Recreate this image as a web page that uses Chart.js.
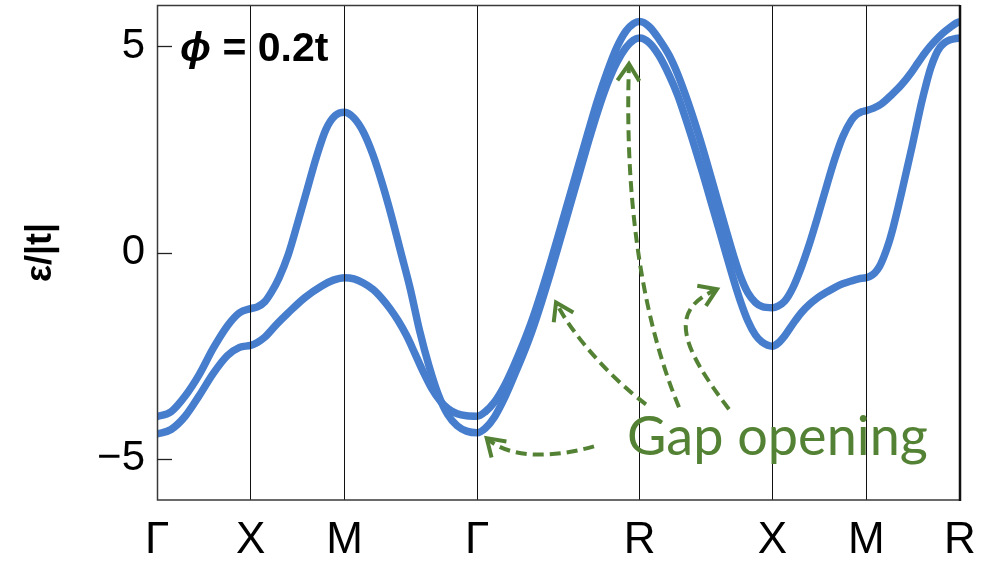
<!DOCTYPE html>
<html>
<head>
<meta charset="utf-8">
<script src="https://cdn.jsdelivr.net/npm/chart.js@4.4.1/dist/chart.umd.min.js"></script>
<style>
  html, body { margin: 0; padding: 0; background: #fff; }
  canvas { display: block; }
</style>
</head>
<body>
<canvas id="bands" width="994" height="561"></canvas>
<script>
// High-symmetry points along the path Γ-X-M-Γ-R-X-M-R (path length units)
const kNodes = [0, 1, 2, 3.414, 5.146, 6.561, 7.561, 8.561];
const kLabels = ['Γ', 'X', 'M', 'Γ', 'R', 'X', 'M', 'R'];
const yTickValues = [-5, 0, 5];
const yTickLabels = ['\u22125', '0', '5'];

// Band A: starts on the upper branch at Γ, ends on the lower branch at R
const bandAK = [
  0, 0.15, 0.3, 0.45, 0.6, 0.75, 0.88, 1.0,
  1.07, 1.15, 1.22, 1.3, 1.4, 1.5, 1.6, 1.7, 1.8, 1.9, 2.0,
  2.1, 2.2, 2.3, 2.4, 2.5, 2.6, 2.7, 2.8, 2.9, 3.0, 3.1, 3.2, 3.3, 3.414,
  3.5, 3.6, 3.7, 3.8, 3.9, 4.0, 4.1, 4.2, 4.3, 4.4, 4.5, 4.6, 4.7, 4.8, 4.9, 5.0, 5.08, 5.146,
  5.25, 5.35, 5.46, 5.55, 5.64, 5.73, 5.815, 5.9, 5.99, 6.07, 6.15, 6.22, 6.3, 6.38, 6.45, 6.561,
  6.62, 6.692, 6.78, 6.869, 6.96, 7.047, 7.14, 7.225, 7.31, 7.402, 7.48, 7.561,
  7.6, 7.65, 7.7, 7.75, 7.8, 7.85, 7.9, 7.95, 8.0, 8.05, 8.1, 8.15, 8.2, 8.25, 8.3, 8.35, 8.4, 8.45, 8.5, 8.561
];
const bandAE = [
  -3.98, -3.86, -3.48, -2.96, -2.32, -1.78, -1.46, -1.36,
  -1.32, -1.19, -0.96, -0.62, -0.05, 0.72, 1.52, 2.32, 2.98, 3.32, 3.40,
  3.26, 2.92, 2.38, 1.68, 0.88, 0.00, -0.88, -1.90, -2.75, -3.45, -3.93, -4.20, -4.33, -4.37,
  -4.26, -3.98, -3.55, -3.03, -2.49, -1.89, -1.20, -0.46, 0.32, 1.11, 1.90, 2.69, 3.43, 4.08, 4.60, 4.97, 5.15, 5.20,
  5.08, 4.78, 4.30, 3.82, 3.22, 2.58, 1.95, 1.28, 0.58, -0.06, -0.68, -1.18, -1.66, -2.00, -2.17, -2.27,
  -2.20, -2.02, -1.73, -1.46, -1.25, -1.09, -0.96, -0.85, -0.76, -0.69, -0.64, -0.61,
  -0.58, -0.50, -0.35, -0.10, 0.22, 0.62, 1.08, 1.57, 2.07, 2.57, 3.10, 3.62, 4.08, 4.48, 4.78, 4.98, 5.09, 5.15, 5.18, 5.20
];

// Band B: starts on the lower branch at Γ, ends on the upper branch at R
const bandBK = [
  0, 0.15, 0.3, 0.45, 0.6, 0.75, 0.88, 1.0,
  1.07, 1.151, 1.28, 1.4, 1.578, 1.756, 1.88, 2.0,
  2.1, 2.2, 2.306, 2.4, 2.484, 2.57, 2.662, 2.75, 2.84, 2.93, 3.02, 3.1, 3.2, 3.3, 3.414,
  3.5, 3.6, 3.7, 3.8, 3.9, 4.0, 4.1, 4.2, 4.3, 4.4, 4.5, 4.6, 4.7, 4.8, 4.9, 5.0, 5.08, 5.146,
  5.25, 5.35, 5.46, 5.55, 5.64, 5.73, 5.815, 5.9, 5.99, 6.07, 6.15, 6.22, 6.3, 6.38, 6.45, 6.561,
  6.62, 6.692, 6.78, 6.869, 6.96, 7.047, 7.14, 7.225, 7.31, 7.402, 7.46, 7.509, 7.561,
  7.64, 7.722, 7.83, 7.935, 8.04, 8.113, 8.2, 8.291, 8.38, 8.468, 8.52, 8.561
];
const bandBE = [
  -4.40, -4.29, -3.97, -3.47, -2.93, -2.50, -2.30, -2.25,
  -2.18, -2.05, -1.73, -1.46, -1.09, -0.81, -0.67, -0.61,
  -0.64, -0.74, -0.90, -1.12, -1.36, -1.65, -2.02, -2.45, -2.90, -3.30, -3.60, -3.78, -3.91, -3.96, -3.97,
  -3.86, -3.62, -3.25, -2.77, -2.23, -1.63, -0.94, -0.20, 0.58, 1.37, 2.16, 2.95, 3.71, 4.38, 4.96, 5.37, 5.55, 5.60,
  5.47, 5.18, 4.78, 4.33, 3.78, 3.17, 2.55, 1.88, 1.16, 0.52, -0.10, -0.58, -0.98, -1.21, -1.31, -1.34,
  -1.30, -1.18, -0.85, -0.36, 0.24, 0.89, 1.62, 2.26, 2.80, 3.20, 3.35, 3.41, 3.44,
  3.50, 3.60, 3.82, 4.06, 4.36, 4.60, 4.88, 5.12, 5.32, 5.48, 5.56, 5.60
];

// Dashed callout arrows (cubic Bézier: start, control 1, control 2, tip) in (k, ε) units
const gapArrows = [
  [[4.659, -4.70], [4.243, -4.97], [3.763, -5.02], [3.515, -4.50]],
  [[5.213, -3.68], [4.829, -3.03], [4.424, -1.98], [4.254, -1.21]],
  [[5.565, -3.75], [5.043, -0.89], [5.000, 2.51], [5.032, 4.57]],
  [[6.098, -3.80], [5.576, -2.23], [5.448, -1.40], [5.970, -0.89]]
];
const gapLabel = { text: 'Gap opening', at: [5.011, -4.90] };
const fluxLabel = { symbol: '\u03D5', rest: ' = 0.2t', at: [0.245, 4.64] };

const BAND_COLOR = '#477dcd';
const NOTE_COLOR = '#548235';

const toPoints = (ks, es) => ks.map((k, i) => ({ x: k, y: es[i] }));

const overlay = {
  id: 'overlay',
  afterDraw(chart) {
    const { ctx, chartArea: a, scales: { x, y } } = chart;
    const P = p => [x.getPixelForValue(p[0]), y.getPixelForValue(p[1])];
    ctx.save();

    // frame
    ctx.strokeStyle = '#3a3a3a';
    ctx.lineWidth = 1.5;
    ctx.beginPath();
    ctx.moveTo(a.right, a.top + 0.5); ctx.lineTo(a.left + 0.5, a.top + 0.5);
    ctx.lineTo(a.left + 0.5, a.bottom); ctx.lineTo(a.right, a.bottom);
    ctx.stroke();
    ctx.strokeStyle = '#111';
    ctx.lineWidth = 2.5;
    ctx.beginPath();
    ctx.moveTo(a.right, a.top); ctx.lineTo(a.right, a.bottom + 1);
    ctx.stroke();

    // inward ticks on the energy axis
    ctx.strokeStyle = '#222';
    ctx.lineWidth = 1.3;
    yTickValues.forEach(v => {
      const py = Math.round(y.getPixelForValue(v)) + 0.5;
      ctx.beginPath(); ctx.moveTo(a.left, py); ctx.lineTo(a.left + 15, py); ctx.stroke();
    });

    // flux label
    const [fx, fy] = P(fluxLabel.at);
    ctx.fillStyle = '#000';
    ctx.textBaseline = 'alphabetic';
    ctx.textAlign = 'left';
    ctx.font = 'italic bold 41px "Liberation Sans", "DejaVu Sans", sans-serif';
    ctx.fillText(fluxLabel.symbol, fx, fy);
    const sw = ctx.measureText(fluxLabel.symbol).width;
    ctx.font = 'bold 41px "Liberation Sans", "DejaVu Sans", sans-serif';
    ctx.fillText(fluxLabel.rest, fx + sw, fy);

    // callout arrows
    ctx.strokeStyle = NOTE_COLOR;
    ctx.lineWidth = 4;
    gapArrows.forEach(arr => {
      const [p0, c1, c2, p3] = arr.map(P);
      ctx.setLineDash([11, 6]);
      ctx.lineCap = 'butt';
      ctx.beginPath();
      ctx.moveTo(p0[0], p0[1]);
      ctx.bezierCurveTo(c1[0], c1[1], c2[0], c2[1], p3[0], p3[1]);
      ctx.stroke();
      ctx.setLineDash([]);
      const ang = Math.atan2(p3[1] - c2[1], p3[0] - c2[0]);
      const len = 20, spread = 0.58;
      ctx.lineJoin = 'miter';
      ctx.beginPath();
      ctx.moveTo(p3[0] - len * Math.cos(ang - spread), p3[1] - len * Math.sin(ang - spread));
      ctx.lineTo(p3[0], p3[1]);
      ctx.lineTo(p3[0] - len * Math.cos(ang + spread), p3[1] - len * Math.sin(ang + spread));
      ctx.stroke();
    });

    // callout text
    const [gx, gy] = P(gapLabel.at);
    ctx.fillStyle = NOTE_COLOR;
    ctx.font = '54px Lato, "Open Sans", sans-serif';
    ctx.fillText(gapLabel.text, gx, gy);

    ctx.restore();
  }
};

const zeroPad = s => { s.paddingLeft = 0; s.paddingRight = 0; s.paddingTop = 0; s.paddingBottom = 0; };

new Chart(document.getElementById('bands'), {
  type: 'line',
  data: {
    datasets: [
      { data: toPoints(bandAK, bandAE) },
      { data: toPoints(bandBK, bandBE) }
    ].map(d => Object.assign(d, {
      borderColor: BAND_COLOR,
      borderWidth: 7.5,
      pointRadius: 0,
      fill: false,
      cubicInterpolationMode: 'monotone'
    }))
  },
  options: {
    responsive: false,
    animation: false,
    events: [],
    layout: { padding: { left: 0, top: 5, right: 34, bottom: 0 } },
    plugins: { legend: { display: false }, tooltip: { enabled: false } },
    scales: {
      x: {
        type: 'linear',
        min: kNodes[0],
        max: kNodes[kNodes.length - 1],
        afterBuildTicks: s => { s.ticks = kNodes.map(v => ({ value: v })); },
        afterFit: s => { s.height = 61; zeroPad(s); },
        ticks: {
          autoSkip: false,
          maxRotation: 0,
          padding: 14,
          color: '#000',
          font: { family: '"Liberation Sans", Arial, sans-serif', size: 44 },
          callback: (v, i) => kLabels[i]
        },
        grid: { z: 1, color: '#111', lineWidth: 1, drawTicks: false },
        border: { display: false }
      },
      y: {
        type: 'linear',
        min: -6,
        max: 6,
        afterBuildTicks: s => { s.ticks = yTickValues.map(v => ({ value: v })); },
        afterFit: s => { s.width = 157; zeroPad(s); },
        ticks: {
          padding: 12,
          color: '#000',
          font: { family: '"Liberation Sans", Arial, sans-serif', size: 42 },
          callback: v => yTickLabels[yTickValues.indexOf(v)]
        },
        grid: { display: false, drawTicks: false },
        border: { display: false },
        title: {
          display: true,
          text: 'ε/|t|',
          color: '#000',
          padding: { top: 19, bottom: 0 },
          font: { family: '"Liberation Sans", Arial, sans-serif', size: 36, weight: 'bold' }
        }
      }
    }
  },
  plugins: [overlay]
});
</script>
</body>
</html>
